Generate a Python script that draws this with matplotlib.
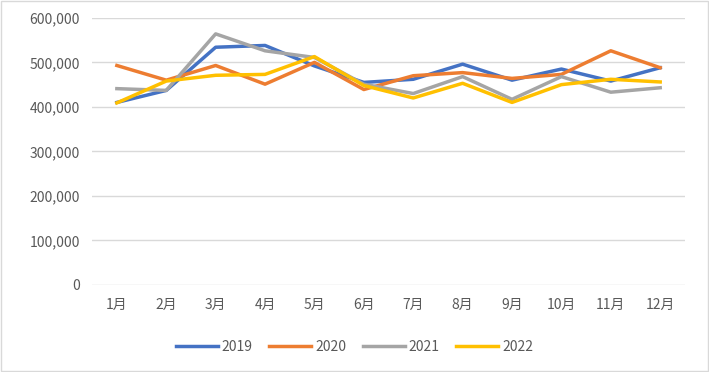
import numpy as np
import matplotlib.pyplot as plt
from matplotlib.patches import Rectangle
from matplotlib.ticker import FuncFormatter

plt.rcParams['font.family'] = ['Noto Sans CJK SC', 'DejaVu Sans']

months = ['1月', '2月', '3月', '4月', '5月', '6月', '7月', '8月', '9月', '10月', '11月', '12月']
v2019 = [410000, 437000, 534000, 538000, 492000, 455000, 462000, 496000, 460000, 485000, 458000, 488000]
v2020 = [493000, 460000, 493000, 451000, 500000, 439000, 470000, 477000, 464000, 473000, 526000, 488000]
v2021 = [441000, 437000, 564000, 526000, 511000, 451000, 430000, 468000, 417000, 468000, 433000, 443000]
v2022 = [409000, 458000, 471000, 473000, 513000, 448000, 420000, 453000, 410000, 450000, 462000, 456000]

series = [('2019', v2019, '#4472C4'), ('2020', v2020, '#ED7D31'),
          ('2021', v2021, '#A5A5A5'), ('2022', v2022, '#FFC000')]

fig = plt.figure(figsize=(7.09, 3.72), dpi=100)
ax = fig.add_axes([0.130, 0.234, 0.836, 0.718])

x = np.arange(len(months))
for name, vals, col in series:
    ax.plot(x, vals, color=col, lw=2.5, label=name, solid_joinstyle='round')

ax.set_xlim(-0.5, 11.5)
ax.set_ylim(0, 600000)
ax.set_yticks(np.arange(0, 600001, 100000))
ax.yaxis.set_major_formatter(FuncFormatter(lambda v, p: '{:,}'.format(int(v))))
ax.set_xticks(x)
ax.set_xticklabels(months)
ax.yaxis.grid(True, color='#D9D9D9', lw=1)
ax.set_axisbelow(True)
for s in ax.spines.values():
    s.set_visible(False)
ax.tick_params(length=0, colors='#595959', labelsize=10)
ax.tick_params(axis='y', pad=9)
ax.tick_params(axis='x', pad=9)

fig.legend(loc='center', bbox_to_anchor=(0.5, 0.067), ncol=4, frameon=False,
           handlelength=3.0, columnspacing=1.2, handletextpad=0.3,
           prop={'size': 10}, labelcolor='#595959')

fig.patches.append(Rectangle((0.001, 0.002), 0.997, 0.995, transform=fig.transFigure,
                             fill=False, edgecolor='#D9D9D9', lw=1))

fig.savefig('out.png', dpi=100)
